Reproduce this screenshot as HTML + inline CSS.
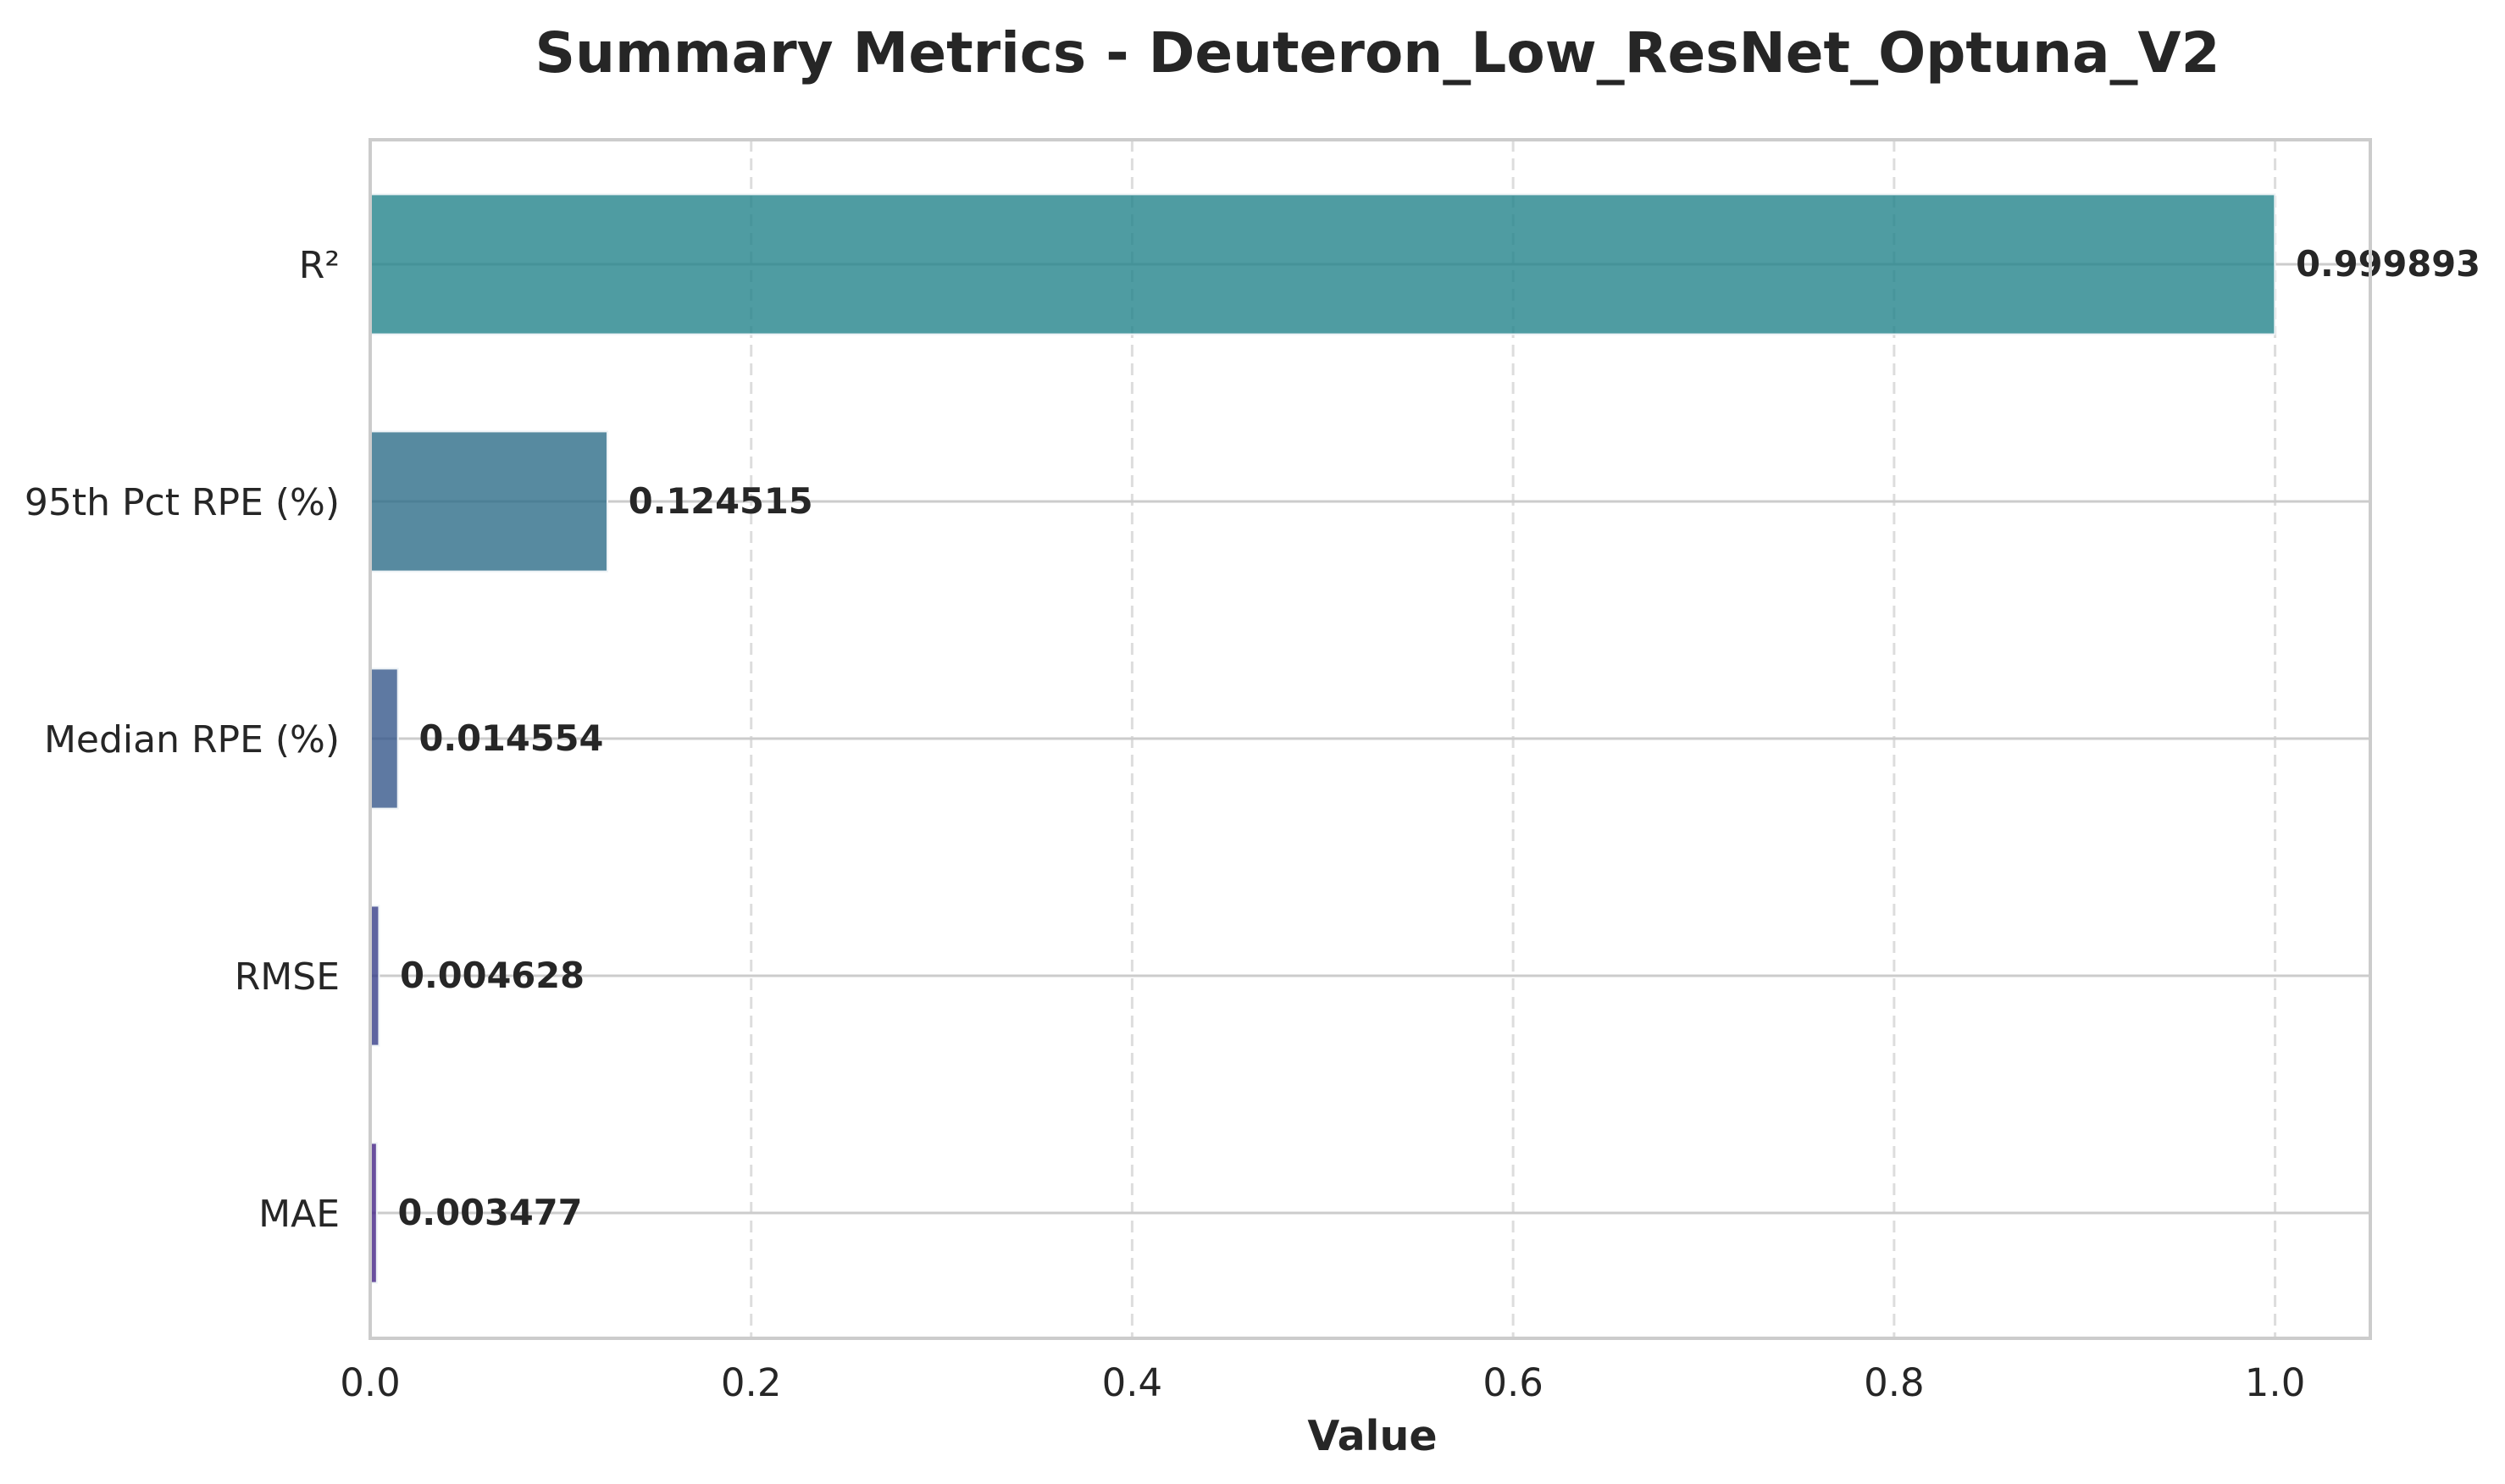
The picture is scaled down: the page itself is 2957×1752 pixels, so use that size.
<!DOCTYPE html>
<html><head><meta charset="utf-8"><style>
html,body{margin:0;padding:0;background:#fff;}
svg{display:block;font-family:"DejaVu Sans","Liberation Sans",sans-serif;}
</style></head><body>
<svg id="chart" width="2957" height="1752" viewBox="0 0 2957 1752" xmlns="http://www.w3.org/2000/svg">
<rect width="2957" height="1752" fill="#fff"/>
<text x="1626" y="85" text-anchor="middle" font-size="66" font-weight="bold" fill="#262626">Summary Metrics - Deuteron_Low_ResNet_Optuna_V2</text>
<g id="grid"></g>
<g id="bars"></g>
<g id="labels"></g>
<rect x="437" y="165" width="2361" height="1415" fill="none" stroke="#cccccc" stroke-width="4"/>
<g id="ticks"></g>
<text x="1620" y="1712" text-anchor="middle" font-size="49" font-weight="bold" fill="#262626">Value</text>
</svg>
<script>
const categories = ["R²","95th Pct RPE (%)","Median RPE (%)","RMSE","MAE"];
const values = [0.999893,0.124515,0.014554,0.004628,0.003477];
const valueLabels = ["0.999893","0.124515","0.014554","0.004628","0.003477"];
const xTicks = [0,0.2,0.4,0.6,0.8,1.0];
const xTickLabels = ["0.0","0.2","0.4","0.6","0.8","1.0"];
const colors = ["#23838b","#2d6d88","#36588b","#363d88","#442386"];

const NS="http://www.w3.org/2000/svg";
const L=437,R=2798,T=165,B=1580,XMAX=1.05;
const xs=v=>L+(v/XMAX)*(R-L);
const unit=280, c0=312;
const ys=i=>c0+i*unit;
const bh=0.59*unit;
function mk(tag,attrs,parent,text){const e=document.createElementNS(NS,tag);for(const k in attrs)e.setAttribute(k,attrs[k]);if(text!==undefined)e.textContent=text;parent.appendChild(e);return e;}
const grid=document.getElementById('grid'),bars=document.getElementById('bars'),labels=document.getElementById('labels'),ticks=document.getElementById('ticks');
xTicks.forEach((t,i)=>{
  if(t>0){const g=mk('line',{x1:xs(t),x2:xs(t),y1:T,y2:B,stroke:'#dddddd','stroke-width':3,'stroke-dasharray':'14,8'},grid);
  
  }
  const tl=mk('text',{x:xs(t),y:1648,'text-anchor':'middle','font-size':45,fill:'#262626'},ticks,xTickLabels[i]);
  
  
});
categories.forEach((c,i)=>{
  const y=ys(i);
  const gl=mk('line',{x1:L,x2:R,y1:y,y2:y,stroke:'#cccccc','stroke-width':3},grid);
  
  
  const b=mk('rect',{x:L,y:y-bh/2,width:Math.max(xs(values[i])-L,1),height:bh,fill:colors[i],'fill-opacity':0.8,stroke:'#eef3f6','stroke-width':2},bars);
  
  
  const vl=mk('text',{x:xs(values[i]+0.011),y:y+14,'font-size':41.5,'font-weight':'bold',fill:'#262626'},labels,valueLabels[i]);
  
  
  const yl=mk('text',{x:401,y:y+16,'text-anchor':'end','font-size':44,fill:'#262626'},ticks,c);
  
  
});
</script>
</body></html>
